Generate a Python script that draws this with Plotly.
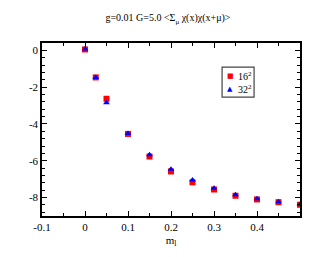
import plotly.graph_objects as go

m = [0.0, 0.025, 0.05, 0.1, 0.15, 0.2, 0.25, 0.3, 0.35, 0.4, 0.45, 0.5]
y16 = [0.05, -1.47, -2.63, -4.54, -5.77, -6.58, -7.17, -7.56, -7.90, -8.10, -8.25, -8.39]
y32 = [0.07, -1.47, -2.84, -4.52, -5.67, -6.46, -7.05, -7.49, -7.84, -8.06, -8.22, -8.36]
xticks = [-0.1, 0, 0.1, 0.2, 0.3, 0.4]
xticklabels = ["-0.1", "0", "0.1", "0.2", "0.3", "0.4"]
yticks = [0, -2, -4, -6, -8]
yticklabels = ["0", "-2", "-4", "-6", "-8"]
series_names = ["16<sup>2</sup>", "32<sup>2</sup>"]
series_colors = ["#ff0000", "#0000ff"]

font = "Liberation Serif"
fig = go.Figure()
fig.add_trace(go.Scatter(x=m, y=y16, mode="markers", name=series_names[0], showlegend=False,
                         marker=dict(symbol="square", size=6, color=series_colors[0])))
fig.add_trace(go.Scatter(x=m, y=y32, mode="markers", name=series_names[1], showlegend=False,
                         marker=dict(symbol="triangle-up", size=6, color=series_colors[1])))

axis_common = dict(showline=True, linecolor="black", linewidth=1.5, mirror="allticks",
                   ticks="inside", ticklen=5, tickwidth=1.2, tickcolor="black",
                   showgrid=False, zeroline=False,
                   tickfont=dict(family=font, size=11, color="black"))
fig.update_xaxes(range=[-0.1, 0.5], tickvals=xticks, ticktext=xticklabels,
                 minor=dict(dtick=0.05, tick0=0, ticks="inside", ticklen=3, tickcolor="black", showgrid=False),
                 title=dict(text="m<sub>l</sub>", font=dict(family=font, size=11, color="black"), standoff=4),
                 **axis_common)
fig.update_yaxes(range=[-9, 0.4], tickvals=yticks, ticktext=yticklabels,
                 minor=dict(dtick=0.4, tick0=0, ticks="inside", ticklen=3, tickcolor="black", showgrid=False),
                 **axis_common)

# manual legend (paper coordinates)
fig.add_shape(type="rect", xref="paper", yref="paper", x0=0.698, x1=0.822, y0=0.687, y1=0.860,
              line=dict(color="#444444", width=1.2), fillcolor="white", layer="above")
legend_y = [0.812, 0.732]
symbols = ["■", "▲"]
for name, col, sym, ly in zip(series_names, series_colors, symbols, legend_y):
    fig.add_annotation(xref="paper", yref="paper", x=0.729, y=ly, text=sym, showarrow=False,
                       font=dict(family="DejaVu Sans", size=7, color=col), xanchor="center", yanchor="middle")
    fig.add_annotation(xref="paper", yref="paper", x=0.787, y=ly, text=name, showarrow=False,
                       font=dict(family=font, size=10, color="black"), xanchor="center", yanchor="middle")

fig.update_layout(
    width=332, height=257,
    margin=dict(l=42, r=32, t=43, b=35),
    paper_bgcolor="white", plot_bgcolor="white",
    title=dict(text="g=0.01 G=5.0 &lt;Σ<sub>μ</sub> χ(x)χ(x+μ)&gt;", x=0.506, xanchor="center",
               y=0.93, yanchor="middle", font=dict(family=font, size=10, color="black")),
    showlegend=False,
)
fig.write_html("out.html", config={"displayModeBar": False},
               post_script="document.body.style.margin='0';document.body.style.padding='0';")
